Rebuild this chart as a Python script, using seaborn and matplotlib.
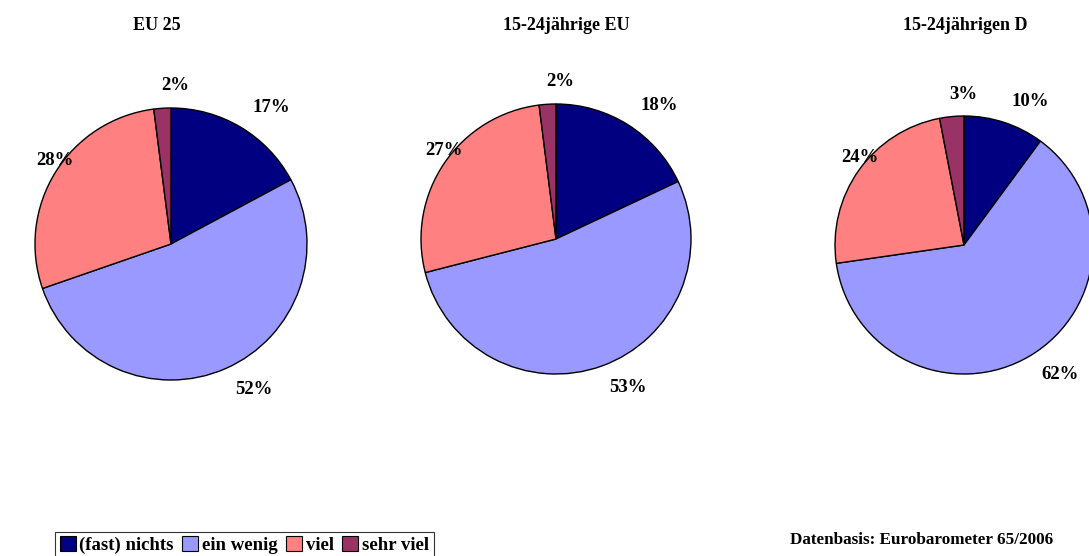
import matplotlib
matplotlib.use("Agg")
import matplotlib.pyplot as plt
import seaborn as sns
from matplotlib.patches import Patch

sns.set_theme(style="white")
plt.rcParams['font.family'] = ['Liberation Serif', 'DejaVu Serif']
plt.rcParams['text.color'] = 'black'

categories = ["(fast) nichts", "ein wenig", "viel", "sehr viel"]
colors = ["#000080", "#9999FF", "#FF8080", "#993366"]
titles = ["EU 25", "15-24jährige EU", "15-24jährigen D"]
eu25 = [17, 52, 28, 2]
eu_young = [18, 53, 27, 2]
d_young = [10, 62, 24, 3]
series = [eu25, eu_young, d_young]

W, H = 1089, 556
fig = plt.figure(figsize=(W / 100, H / 100), dpi=100)
ax = fig.add_axes([0, 0, 1, 1])

centers = [(171, 244), (556, 239), (964, 245)]
radii = [136, 135, 129]
title_x = [157, 566, 965]

for vals, (cx, cy), r, t, tx in zip(series, centers, radii, titles, title_x):
    labels = [f"{v}%" for v in vals]
    ax.pie(vals, colors=colors, startangle=90, counterclock=False,
           center=(cx, H - cy), radius=r, labels=labels,
           labeldistance=1.17,
           wedgeprops=dict(edgecolor="black", linewidth=1.0),
           textprops=dict(fontsize=13.5, fontweight="bold", color="black"),
           frame=True)
    ax.text(tx, H - 26, t, ha="center", va="center", fontsize=13, fontweight="bold",
            color="black")

ax.set_xlim(0, W)
ax.set_ylim(0, H)
ax.set_aspect("equal")
ax.axis("off")

handles = [Patch(facecolor=c, edgecolor="black", linewidth=0.8) for c in colors]
leg = fig.legend(handles, categories, ncol=4, loc="lower left",
                 bbox_to_anchor=(55 / W, -3 / H), frameon=True, fancybox=False,
                 handlelength=0.85, handleheight=0.85, handletextpad=0.2,
                 columnspacing=0.45, borderpad=0.25, borderaxespad=0,
                 prop=dict(size=13.5, weight="bold"))
leg.get_frame().set_edgecolor("black")
leg.get_frame().set_linewidth(0.8)
for txt in leg.get_texts():
    txt.set_color("black")

fig.text(790 / W, 1 - 540 / H, "Datenbasis: Eurobarometer 65/2006", ha="left", va="center",
         fontsize=12.3, fontweight="bold", color="black")

fig.savefig("out.png", dpi=100, facecolor="white")
